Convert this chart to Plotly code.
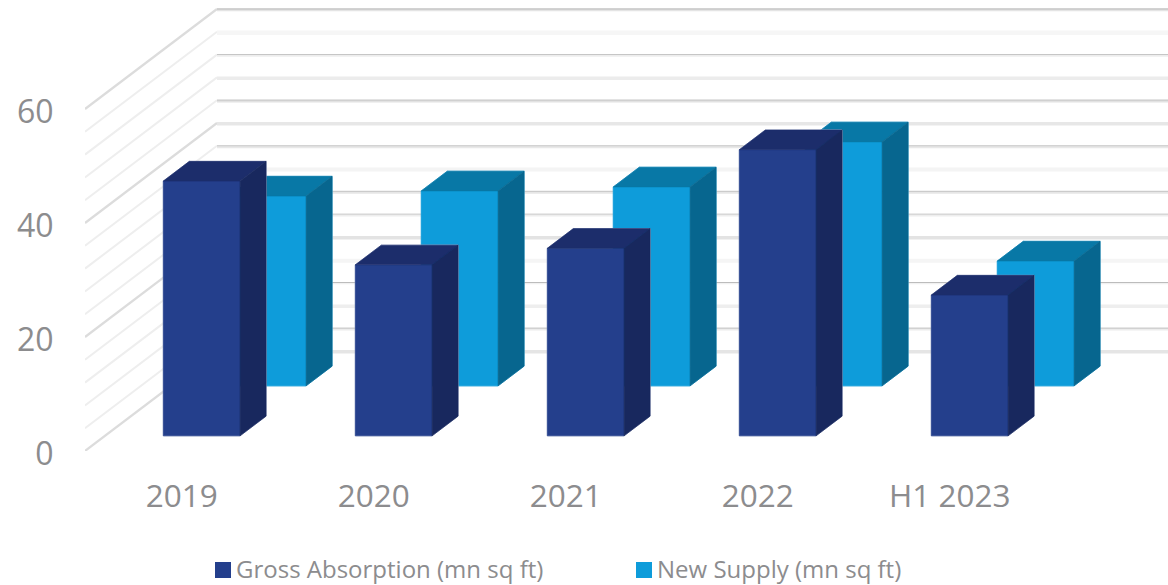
import plotly.graph_objects as go

# Annual values, mn sq ft
categories = ["2019", "2020", "2021", "2022", "H1 2023"]
gross_absorption = [44.7, 30.0, 32.9, 50.2, 24.7]
new_supply = [33.3, 34.2, 34.9, 42.8, 21.9]
value_ticks = [0, 20, 40, 60]
wall_levels = [60, 56, 52, 48, 44, 40, 36, 32, 28, 24, 20, 16, 12, 8, 4, 0]

# Oblique projection of the chart box, expressed in axis units
PX_PER_CATEGORY = 192
PX_PER_VALUE = 5.7
DEPTH_X = 132 / PX_PER_CATEGORY
DEPTH_Y = 100 / PX_PER_VALUE
BAR_WIDTH = 0.40
BAR_DEPTH = 0.197
CATEGORY_CENTRE = 0.5 + 0.7 / PX_PER_CATEGORY
X_MAX = 1083 / PX_PER_CATEGORY
Y_MAX = 451 / PX_PER_VALUE


def project(x, value, depth):
    return x + DEPTH_X * depth, value + DEPTH_Y * depth


def polygons(faces):
    xs, ys = [], []
    for face in faces:
        pts = [project(*p) for p in face]
        pts.append(pts[0])
        xs += [p[0] for p in pts] + [None]
        ys += [p[1] for p in pts] + [None]
    return xs, ys


def bar_faces(values, depth_mid):
    d0, d1 = depth_mid - BAR_DEPTH / 2, depth_mid + BAR_DEPTH / 2
    front, side, top, outline = [], [], [], []
    for i, v in enumerate(values):
        a, b = i + CATEGORY_CENTRE - BAR_WIDTH / 2, i + CATEGORY_CENTRE + BAR_WIDTH / 2
        front.append([(a, 0, d0), (b, 0, d0), (b, v, d0), (a, v, d0)])
        side.append([(b, 0, d0), (b, 0, d1), (b, v, d1), (b, v, d0)])
        top.append([(a, v, d0), (b, v, d0), (b, v, d1), (a, v, d1)])
        outline.append([(a, 0, d0), (b, 0, d0), (b, 0, d1), (b, v, d1), (a, v, d1), (a, v, d0)])
    return front, side, top, outline


fig = go.Figure()


def add_line(x, y, color, width):
    fig.add_trace(go.Scatter(x=x, y=y, mode="lines", showlegend=False, hoverinfo="skip",
                             line=dict(color=color, width=width), cliponaxis=False))


# Side wall rules: every 20 units reads heavier
for v in wall_levels:
    x, y = zip(project(0, v, 0), project(0, v, 1))
    major = v % 20 == 0
    add_line(list(x), list(y), "#dcdcdc" if major else "#eeeeee", 2.2 if major else 2)

# Back wall rules: (core colour, band colour, band width), top rule first
wall_styles = [
    ("#b8b8b8", "#e4e4e4", 3), (None, "#f6f6f6", 4.5), ("#c2c2c2", "#f2f2f2", 3),
    (None, "#ececec", 3.5), ("#c8c8c8", "#e2e2e2", 3), (None, "#e7e7e7", 3.5),
    ("#c8c8c8", "#e8e8e8", 3), (None, "#f4f4f4", 4), ("#c8c8c8", "#e6e6e6", 3),
    ("#cecece", "#eeeeee", 3), (None, "#e3e3e3", 3.5), (None, "#f5f5f5", 4),
    ("#b6b6b6", "#f8f8f8", 2), (None, "#eeeeee", 3.5), ("#c6c6c6", "#ececec", 3),
    (None, "#e5e5e5", 3.5),
]
BAND_SHIFT = 0.15
for v, (core, band, band_width) in zip(wall_levels, wall_styles):
    x0, y0 = project(0, v, 1)
    add_line([x0, X_MAX], [y0 - BAND_SHIFT] * 2, band, band_width)
    if core:
        add_line([x0, X_MAX], [y0] * 2, core, 1)

# Columns, rear series first so the front series overlaps it
series = [
    (new_supply, 0.75, "#0e9cda", "#07668f", "#0878a6", "#5fb8e0"),
    (gross_absorption, 0.25, "#243f8c", "#18285e", "#1c2d6b", "#b9c1d8"),
]
for values, depth_mid, c_front, c_side, c_top, c_edge in series:
    front, side, top, outline = bar_faces(values, depth_mid)
    xs, ys = [], []
    for path in outline:
        pts = [project(*p) for p in path]
        pts.append(pts[0])
        xs += [p[0] for p in pts] + [None]
        ys += [p[1] for p in pts] + [None]
    add_line(xs, ys, c_edge, 1)
    for faces, color in ((front, c_front), (top, c_top), (side, c_side)):
        x, y = polygons(faces)
        # A hairline in the face colour closes the seam between neighbouring faces
        fig.add_trace(go.Scatter(x=x, y=y, mode="lines", fill="toself", fillcolor=color,
                                 line=dict(width=0.6, color=color), showlegend=False,
                                 hoverinfo="skip", cliponaxis=False))

TEXT = "#8c8c8e"
PLOT_LEFT, PLOT_W, PLOT_H = 85, 1083, 451


def paper_x(px):
    return (px - PLOT_LEFT) / PLOT_W


def paper_y(px):
    return (PLOT_H - px) / PLOT_H


# Key below the plot: a swatch and its label per series
key_entries = [("Gross Absorption (mn sq ft)", "#243f8c", 215), ("New Supply (mn sq ft)", "#0e9cda", 636)]
shapes, annotations = [], []
for label, color, left in key_entries:
    shapes.append(dict(type="rect", xref="paper", yref="paper", x0=paper_x(left), x1=paper_x(left + 16),
                       y0=paper_y(578), y1=paper_y(562), fillcolor=color, line=dict(width=0)))
    annotations.append(dict(text=label, xref="paper", yref="paper", x=paper_x(left + 18.5), y=paper_y(568.4),
                            xanchor="left", yanchor="middle", showarrow=False,
                            font=dict(size=24, color=TEXT, family="Open Sans")))

fig.update_layout(
    width=1168, height=585, autosize=False,
    margin=dict(l=PLOT_LEFT, r=0, t=0, b=134),
    paper_bgcolor="white", plot_bgcolor="white",
    font=dict(family="Open Sans", color=TEXT),
    showlegend=False,
    shapes=shapes, annotations=annotations,
    xaxis=dict(range=[0, X_MAX], tickmode="array",
               tickvals=[i + CATEGORY_CENTRE for i in range(len(categories))],
               ticktext=categories, tickfont=dict(size=31.5, color=TEXT), ticks="outside", ticklen=17,
               tickcolor="rgba(0,0,0,0)", showgrid=False, zeroline=False, showline=False, fixedrange=True),
    yaxis=dict(range=[0, Y_MAX], tickmode="array", tickvals=value_ticks, tickfont=dict(size=32, color=TEXT),
               ticks="outside", ticklen=24, tickcolor="rgba(0,0,0,0)", showgrid=False, zeroline=False,
               showline=False, fixedrange=True, ticklabelshift=3),
)

fig.write_html("out.html", config=dict(displayModeBar=False))
